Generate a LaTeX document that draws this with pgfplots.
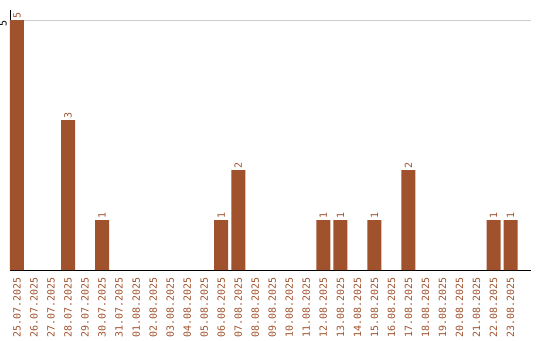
\documentclass[border=0pt]{standalone}
\usepackage{pgfplots}
\pgfplotsset{compat=1.18}
\usepackage{pgfplotstable}
\usepackage{fontspec}
\setmainfont{DejaVu Sans Mono}
\definecolor{barbrown}{HTML}{A0522D}
\definecolor{gridgray}{HTML}{CCCCCC}

% daily counts, one row per day from 25.07.2025 to 23.08.2025
\pgfplotstableread{
idx count
0 5
1 0
2 0
3 3
4 0
5 1
6 0
7 0
8 0
9 0
10 0
11 0
12 1
13 2
14 0
15 0
16 0
17 0
18 1
19 1
20 0
21 1
22 0
23 2
24 0
25 0
26 0
27 0
28 1
29 1
}\daily

\begin{document}
\begin{tikzpicture}[x=1bp,y=1bp]
\useasboundingbox (0,0) rectangle (540,340);
\begin{axis}[
  at={(10bp,70bp)}, anchor=south west,
  scale only axis,
  width=521bp, height=260bp,
  xmin=-0.41, xmax=30.2,
  ymin=0, ymax=5.2,
  axis x line=bottom, axis y line=left,
  axis line style={black, -},
  ytick={5}, xtick={0,...,29},
  xticklabels={25.07.2025,26.07.2025,27.07.2025,28.07.2025,29.07.2025,30.07.2025,31.07.2025,01.08.2025,02.08.2025,03.08.2025,04.08.2025,05.08.2025,06.08.2025,07.08.2025,08.08.2025,09.08.2025,10.08.2025,11.08.2025,12.08.2025,13.08.2025,14.08.2025,15.08.2025,16.08.2025,17.08.2025,18.08.2025,19.08.2025,20.08.2025,21.08.2025,22.08.2025,23.08.2025},
  x tick label style={rotate=90, anchor=east, color=barbrown, font=\fontsize{10}{12}\selectfont, inner sep=0pt, xshift=-7bp},
  y tick label style={rotate=90, anchor=south, font=\fontsize{10}{12}\selectfont, inner sep=0pt, xshift=-3bp, yshift=3bp},
  /pgf/number format/assume math mode=true,
  major tick length=0pt,
  ymajorgrids, grid style={gridgray, line width=0.8pt},
  clip=false,
]
\addplot[ybar, bar width=14bp, fill=barbrown, draw=none,
  y filter/.expression={y==0 ? nan : y},
  unbounded coords=discard,
  nodes near coords={\pgfmathprintnumber{\pgfplotspointmeta}},
  nodes near coords style={rotate=90, anchor=west, color=barbrown, font=\fontsize{10}{12}\selectfont, inner sep=1pt},
  point meta=explicit,
  ] table[x=idx, y=count, meta=count] {\daily};
\end{axis}
\end{tikzpicture}
\end{document}
